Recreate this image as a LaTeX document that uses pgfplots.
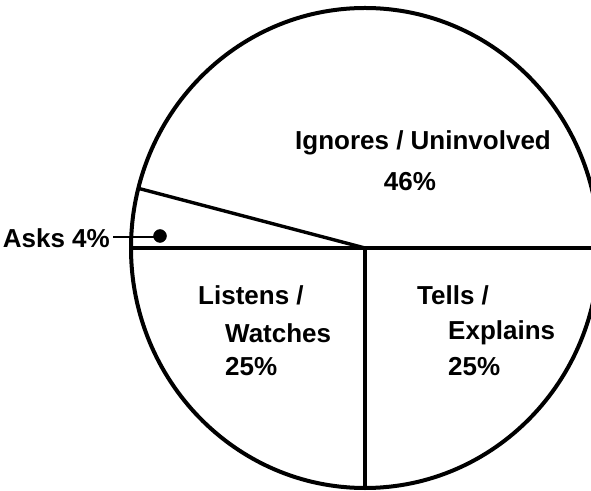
\documentclass[border=0pt]{standalone}
\usepackage{fontspec}
\setmainfont{Liberation Sans}
\usepackage{pgfplots}
\pgfplotsset{compat=1.18}
\begin{document}
\begin{tikzpicture}
% slice percentages: Ignores, Asks, Listens, Tells
\def\pA{46}\def\pB{4}\def\pC{25}\def\pD{25}
\def\rx{234}\def\ry{240}
\pgfmathsetmacro\aB{3.6*\pA}
\pgfmathsetmacro\aC{3.6*(\pA+\pB)}
\pgfmathsetmacro\aD{3.6*(\pA+\pB+\pC)}
\pgfmathsetmacro\xB{\rx*cos(\aB)}\pgfmathsetmacro\yB{\ry*sin(\aB)}
\pgfmathsetmacro\xC{\rx*cos(\aC)}\pgfmathsetmacro\yC{\ry*sin(\aC)}
\pgfmathsetmacro\xD{\rx*cos(\aD)}\pgfmathsetmacro\yD{\ry*sin(\aD)}
\begin{axis}[scale only axis, width=591pt, height=490pt,
  xmin=-365, xmax=226, ymin=-242, ymax=248, hide axis, clip=true]
\addplot[black, line width=3.4pt] coordinates {(0,0) (\rx,0)};
\addplot[black, line width=3.4pt] coordinates {(0,0) (\xB,\yB)};
\addplot[black, line width=3.4pt] coordinates {(0,0) (\xC,\yC)};
\addplot[black, line width=3.4pt] coordinates {(0,0) (\xD,\yD)};
\draw[line width=4pt] (axis cs:0,0) ellipse [x radius=\rx, y radius=\ry];
\addplot[black, line width=2pt] coordinates {(-252,11) (-205,11)};
\addplot[black, only marks, mark=*, mark size=6.5pt] coordinates {(-205,12)};
\tikzset{lab/.style={inner sep=0pt, font=\bfseries\fontsize{26}{30}\selectfont}}
\node[lab] at (axis cs:58,105) {Ignores / Uninvolved};
\node[lab] at (axis cs:45,66) {46\%};
\node[lab, anchor=west] at (axis cs:-167,-47) {Listens /};
\node[lab, anchor=west] at (axis cs:-140,-85) {Watches};
\node[lab, anchor=west] at (axis cs:-140,-119) {25\%};
\node[lab, anchor=west] at (axis cs:52,-47) {Tells /};
\node[lab, anchor=west] at (axis cs:83,-85) {Explains};
\node[lab, anchor=west] at (axis cs:83,-119) {25\%};
\node[lab, anchor=east] at (axis cs:-255,10) {Asks 4\%};
\end{axis}
\pgfresetboundingbox
\useasboundingbox (current axis.south west) rectangle (current axis.north east);
\end{tikzpicture}
\end{document}
